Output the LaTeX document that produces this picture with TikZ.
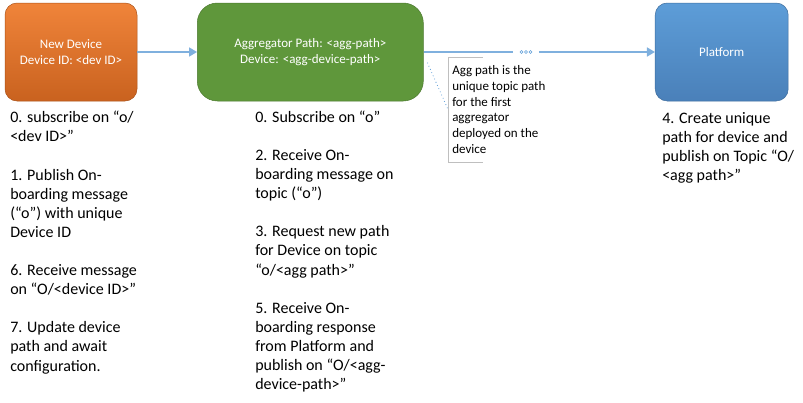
\documentclass[tikz,border=0pt]{standalone}
\usepackage{fontspec}
\setmainfont{Carlito}
\usetikzlibrary{arrows.meta,calc}
\definecolor{orgA}{HTML}{F0843A}
\definecolor{orgB}{HTML}{C9621F}
\definecolor{grn}{HTML}{5F973B}
\definecolor{bluA}{HTML}{5D9DD8}
\definecolor{bluB}{HTML}{4A80B9}
\definecolor{lnk}{HTML}{7FB0DE}
\tikzset{
  >={Triangle[length=8pt,width=9pt]},
  bx/.style={rounded corners=12pt,minimum height=98pt,text=white,align=center,font=\fontsize{13}{16}\selectfont},
  st/.style={anchor=north west,inner sep=0pt,align=left,font=\fontsize{16}{19.1}\selectfont},
  ar/.style={draw=lnk,line width=1.6pt},
  every picture/.style={line width=0.5pt},
}
\begin{document}
\begin{tikzpicture}[x=1pt,y=-1pt]
\useasboundingbox (0,0) rectangle (803,402);
% boxes
\node[bx,minimum width=132pt,top color=orgA,bottom color=orgB,draw=orgB!85!black] (dev) at (71,52) {New Device\\Device ID: <dev ID>};
\node[bx,minimum width=226pt,rounded corners=20pt,fill=grn,draw=grn!80!black] (agg) at (310.3,52) {Aggregator Path: <agg-path>\\Device: <agg-device-path>};
\node[bx,minimum width=133pt,top color=bluA,bottom color=bluB,draw=bluB!85!black] (plat) at (721.7,52) {Platform};
% links
\node[minimum width=25pt,inner sep=0pt] (brk) at (526,52) {};
\foreach \i in {-1,0,1}
 \draw[bluA,line width=0.6pt] ($(brk)+(\i*4.5,0)$) circle (1.5pt);
\draw[ar,->] (dev.east) -- (agg.west);
\draw[ar] (agg.east) -- (brk.west);
\draw[ar,->] (brk.east) -- (plat.west);
% callout
\node[anchor=north west,inner sep=0pt,align=left,font=\fontsize{13}{15.9}\selectfont] (aggnote) at (452,65) {Agg path is the\\unique topic path\\for the first\\aggregator\\deployed on the\\device};
\coordinate (nw) at (448,57);
\coordinate (sw) at (448,162);
\draw[black!25,line width=0.8pt] ($(nw)+(35,0)$) -- (nw) -- (sw) -- ($(sw)+(35,0)$);
\draw[bluA,line width=1.1pt,line cap=round,dash pattern=on 0pt off 3.5pt] ([shift={(4pt,-11pt)}]agg.east) -- ($(nw)!0.5!(sw)$);
% steps
\node[st] (devsteps) at (10,111) {0. subscribe on “o/\\<dev ID>”\\[19.1pt]1. Publish On-\\boarding message\\(“o”) with unique\\Device ID\\[19.1pt]6. Receive message\\on “O/<device ID>”\\[19.1pt]7. Update device\\path and await\\configuration.};
\node[st] (aggsteps) at (255,110.5) {0. Subscribe on “o”\\[19.1pt]2. Receive On-\\boarding message on\\topic (“o”)\\[19.1pt]3. Request new path\\for Device on topic\\“o/<agg path>”\\[19.1pt]5. Receive On-\\boarding response\\from Platform and\\publish on “O/<agg-\\device-path>”};
\node[st] (platsteps) at (662,112) {4. Create unique\\path for device and\\publish on Topic “O/\\<agg path>”};
\end{tikzpicture}
\end{document}
